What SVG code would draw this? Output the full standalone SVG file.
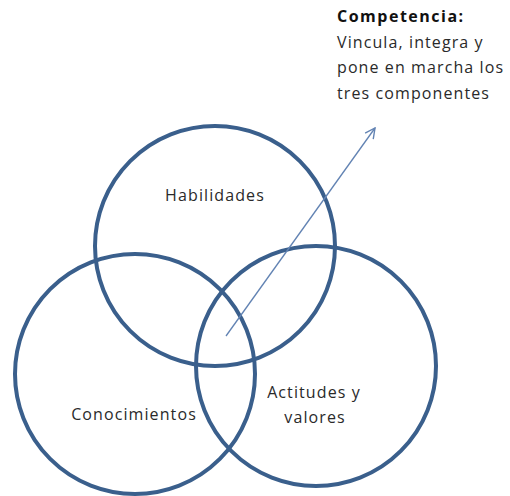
<svg xmlns="http://www.w3.org/2000/svg" width="510" height="496" viewBox="0 0 510 496">
<defs>
<style>
.c{fill:none;stroke:#3a5f8c;stroke-width:4}
.t{font-family:"Open Sans","Liberation Sans",sans-serif;font-size:16px;letter-spacing:1.1px;fill:#2a2a2a}
.b{font-weight:bold;letter-spacing:1.5px;fill:#111}
</style>
<marker id="ah" viewBox="0 0 12 12" refX="11" refY="6" markerWidth="12" markerHeight="12" markerUnits="userSpaceOnUse" orient="auto">
<path d="M1,1 L11,6 L1,11" fill="none" stroke="#6283b3" stroke-width="1.4"/>
</marker>
</defs>
<rect width="510" height="496" fill="#fff"/>
<g id="habilidades">
<circle class="c" cx="215" cy="246" r="120"/>
<text class="t" x="215" y="201" text-anchor="middle">Habilidades</text>
</g>
<g id="conocimientos">
<circle class="c" cx="135" cy="374" r="120"/>
<text class="t" x="134" y="420" text-anchor="middle">Conocimientos</text>
</g>
<g id="actitudes">
<circle class="c" cx="316" cy="366" r="120"/>
<text class="t" x="314" y="398" text-anchor="middle">Actitudes y</text>
<text class="t" x="315" y="423" text-anchor="middle">valores</text>
</g>
<g id="connectors">
<line x1="226" y1="336" x2="375" y2="128" stroke="#6283b3" stroke-width="1.3" marker-end="url(#ah)"/>
</g>
<g id="competencia">
<text class="t b" x="337" y="22">Competencia:</text>
<text class="t" x="337" y="48">Vincula, integra y</text>
<text class="t" x="337" y="73">pone en marcha los</text>
<text class="t" x="337" y="99">tres componentes</text>
</g>
</svg>
